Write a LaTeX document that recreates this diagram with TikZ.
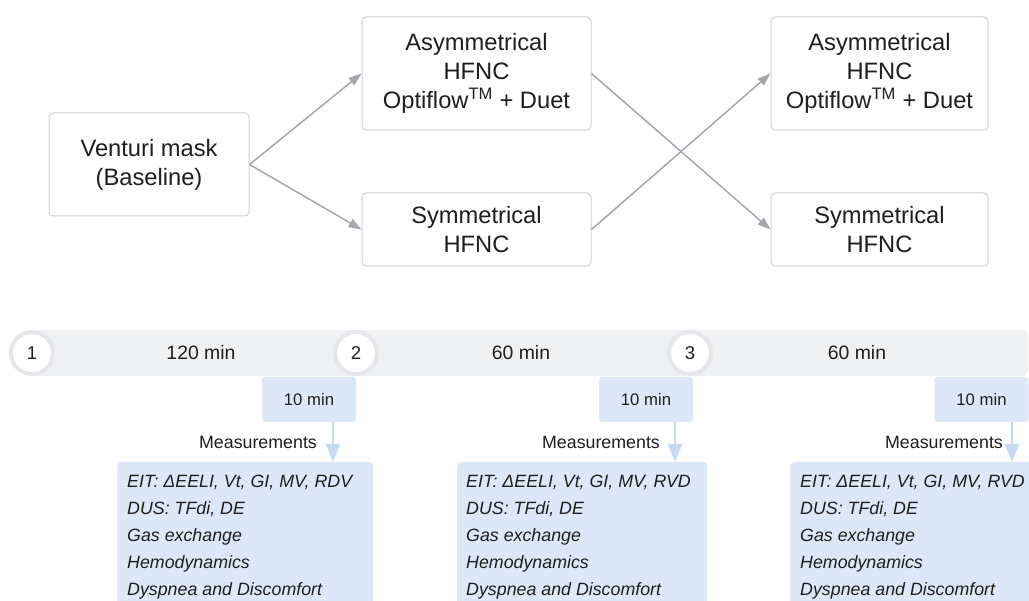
\documentclass[tikz,border=0pt]{standalone}
\usepackage{fontspec}
\setmainfont{Liberation Sans}
\usetikzlibrary{arrows.meta}
\definecolor{boxborder}{HTML}{CFD2D6}
\definecolor{arrgray}{HTML}{A3A7AE}
\definecolor{bandc}{HTML}{F0F1F3}
\definecolor{ringc}{HTML}{E6E7EA}
\definecolor{blueb}{HTML}{DCE8F8}
\definecolor{bluearr}{HTML}{C6DAF3}
\definecolor{txt}{HTML}{1E1E1E}
\tikzset{
  flowbox/.style={draw=boxborder, line width=1pt, rounded corners=4pt, fill=white,
    align=center, text=txt, inner sep=0pt, font=\fontsize{23.7}{29}\selectfont},
  grayarrow/.style={draw=arrgray, line width=1.5pt, -{Triangle[width=9pt,length=13pt]}},
  bluearrow/.style={draw=bluearr, line width=2.5pt, -{Triangle[width=14pt,length=18pt]}},
  circ/.style={circle, fill=white, draw=ringc, line width=4pt, minimum size=42pt, inner sep=0pt,
    text=txt, font=\fontsize{18.5}{22}\selectfont},
  bandlabel/.style={text=txt, font=\fontsize{19.4}{23}\selectfont},
  tenbox/.style={fill=blueb, rounded corners=3pt, minimum width=94pt, minimum height=45pt,
    inner sep=0pt, text=txt, font=\fontsize{16.7}{20}\selectfont},
  measlabel/.style={text=txt, font=\fontsize{17.8}{21}\selectfont},
  measbox/.style={fill=blueb, rounded corners=4pt, anchor=north west, minimum height=160pt, inner sep=0pt},
  meastext/.style={anchor=north west, inner sep=0pt, align=left, text=txt,
    font=\fontsize{17.8}{27}\selectfont\itshape},
}
\begin{document}
\begin{tikzpicture}[x=1pt,y=-1pt]
\clip (0,0) rectangle (1029,601);
\fill[white] (0,0) rectangle (1029,601);

% top flow boxes
\node[flowbox, minimum width=200pt, minimum height=103pt] (ven) at (149,164.5) {Venturi mask\\(Baseline)};
\node[flowbox, minimum width=229pt, minimum height=113pt] (asy1) at (476.5,73.5) {Asymmetrical\\HFNC\\Optiflow\textsuperscript{TM} + Duet};
\node[flowbox, minimum width=229pt, minimum height=73pt] (sym1) at (476.5,229.5) {Symmetrical\\HFNC};
\node[flowbox, minimum width=217pt, minimum height=113pt] (asy2) at (879.5,73.5) {Asymmetrical\\HFNC\\Optiflow\textsuperscript{TM} + Duet};
\node[flowbox, minimum width=217pt, minimum height=73pt] (sym2) at (879.5,229.5) {Symmetrical\\HFNC};

\draw[grayarrow] (ven.east) -- (asy1.west);
\draw[grayarrow] (ven.east) -- (sym1.west);
\draw[grayarrow] (asy1.east) -- (sym2.west);
\draw[grayarrow] (sym1.east) -- (asy2.west);

% timeline band
\node[fill=bandc, rounded corners=6pt, minimum width=996pt, minimum height=46pt, inner sep=0pt] (band) at (530,353) {};
\node[circ] (c1) at (32,353) {1};
\node[circ] (c2) at (356,353) {2};
\node[circ] (c3) at (690,353) {3};
\node[bandlabel] (d1) at (201,353) {120 min};
\node[bandlabel] (d2) at (521,353) {60 min};
\node[bandlabel] (d3) at (857,353) {60 min};

% 10 min boxes
\node[tenbox] (t1) at (309,399.5) {10 min};
\node[tenbox] (t2) at (646,399.5) {10 min};
\node[tenbox] (t3) at (981.5,399.5) {10 min};

% measurement labels
\node[measlabel] (ml1) at (258,442) {Measurements};
\node[measlabel] (ml2) at (601,442) {Measurements};
\node[measlabel] (ml3) at (944,442) {Measurements};

% measurement boxes
\node[measbox, minimum width=256pt] (m1) at (117,462) {};
\node[measbox, minimum width=250pt] (m2) at (457,462) {};
\node[measbox, minimum width=260pt] (m3) at (790,462) {};
\node[meastext] (mt1) at (127,475) {EIT: ΔEELI, Vt, GI, MV, RDV\\DUS: TFdi, DE\\Gas exchange\\Hemodynamics\\Dyspnea and Discomfort};
\node[meastext] (mt2) at (466,475) {EIT: ΔEELI, Vt, GI, MV, RVD\\DUS: TFdi, DE\\Gas exchange\\Hemodynamics\\Dyspnea and Discomfort};
\node[meastext] (mt3) at (800,475) {EIT: ΔEELI, Vt, GI, MV, RVD\\DUS: TFdi, DE\\Gas exchange\\Hemodynamics\\Dyspnea and Discomfort};

% blue arrows
\coordinate (a1) at (333,0);
\coordinate (a2) at (675,0);
\coordinate (a3) at (1012,0);
\draw[bluearrow] (t1.south -| a1) -- (m1.north -| a1);
\draw[bluearrow] (t2.south -| a2) -- (m2.north -| a2);
\draw[bluearrow] (t3.south -| a3) -- (m3.north -| a3);
\end{tikzpicture}
\end{document}
